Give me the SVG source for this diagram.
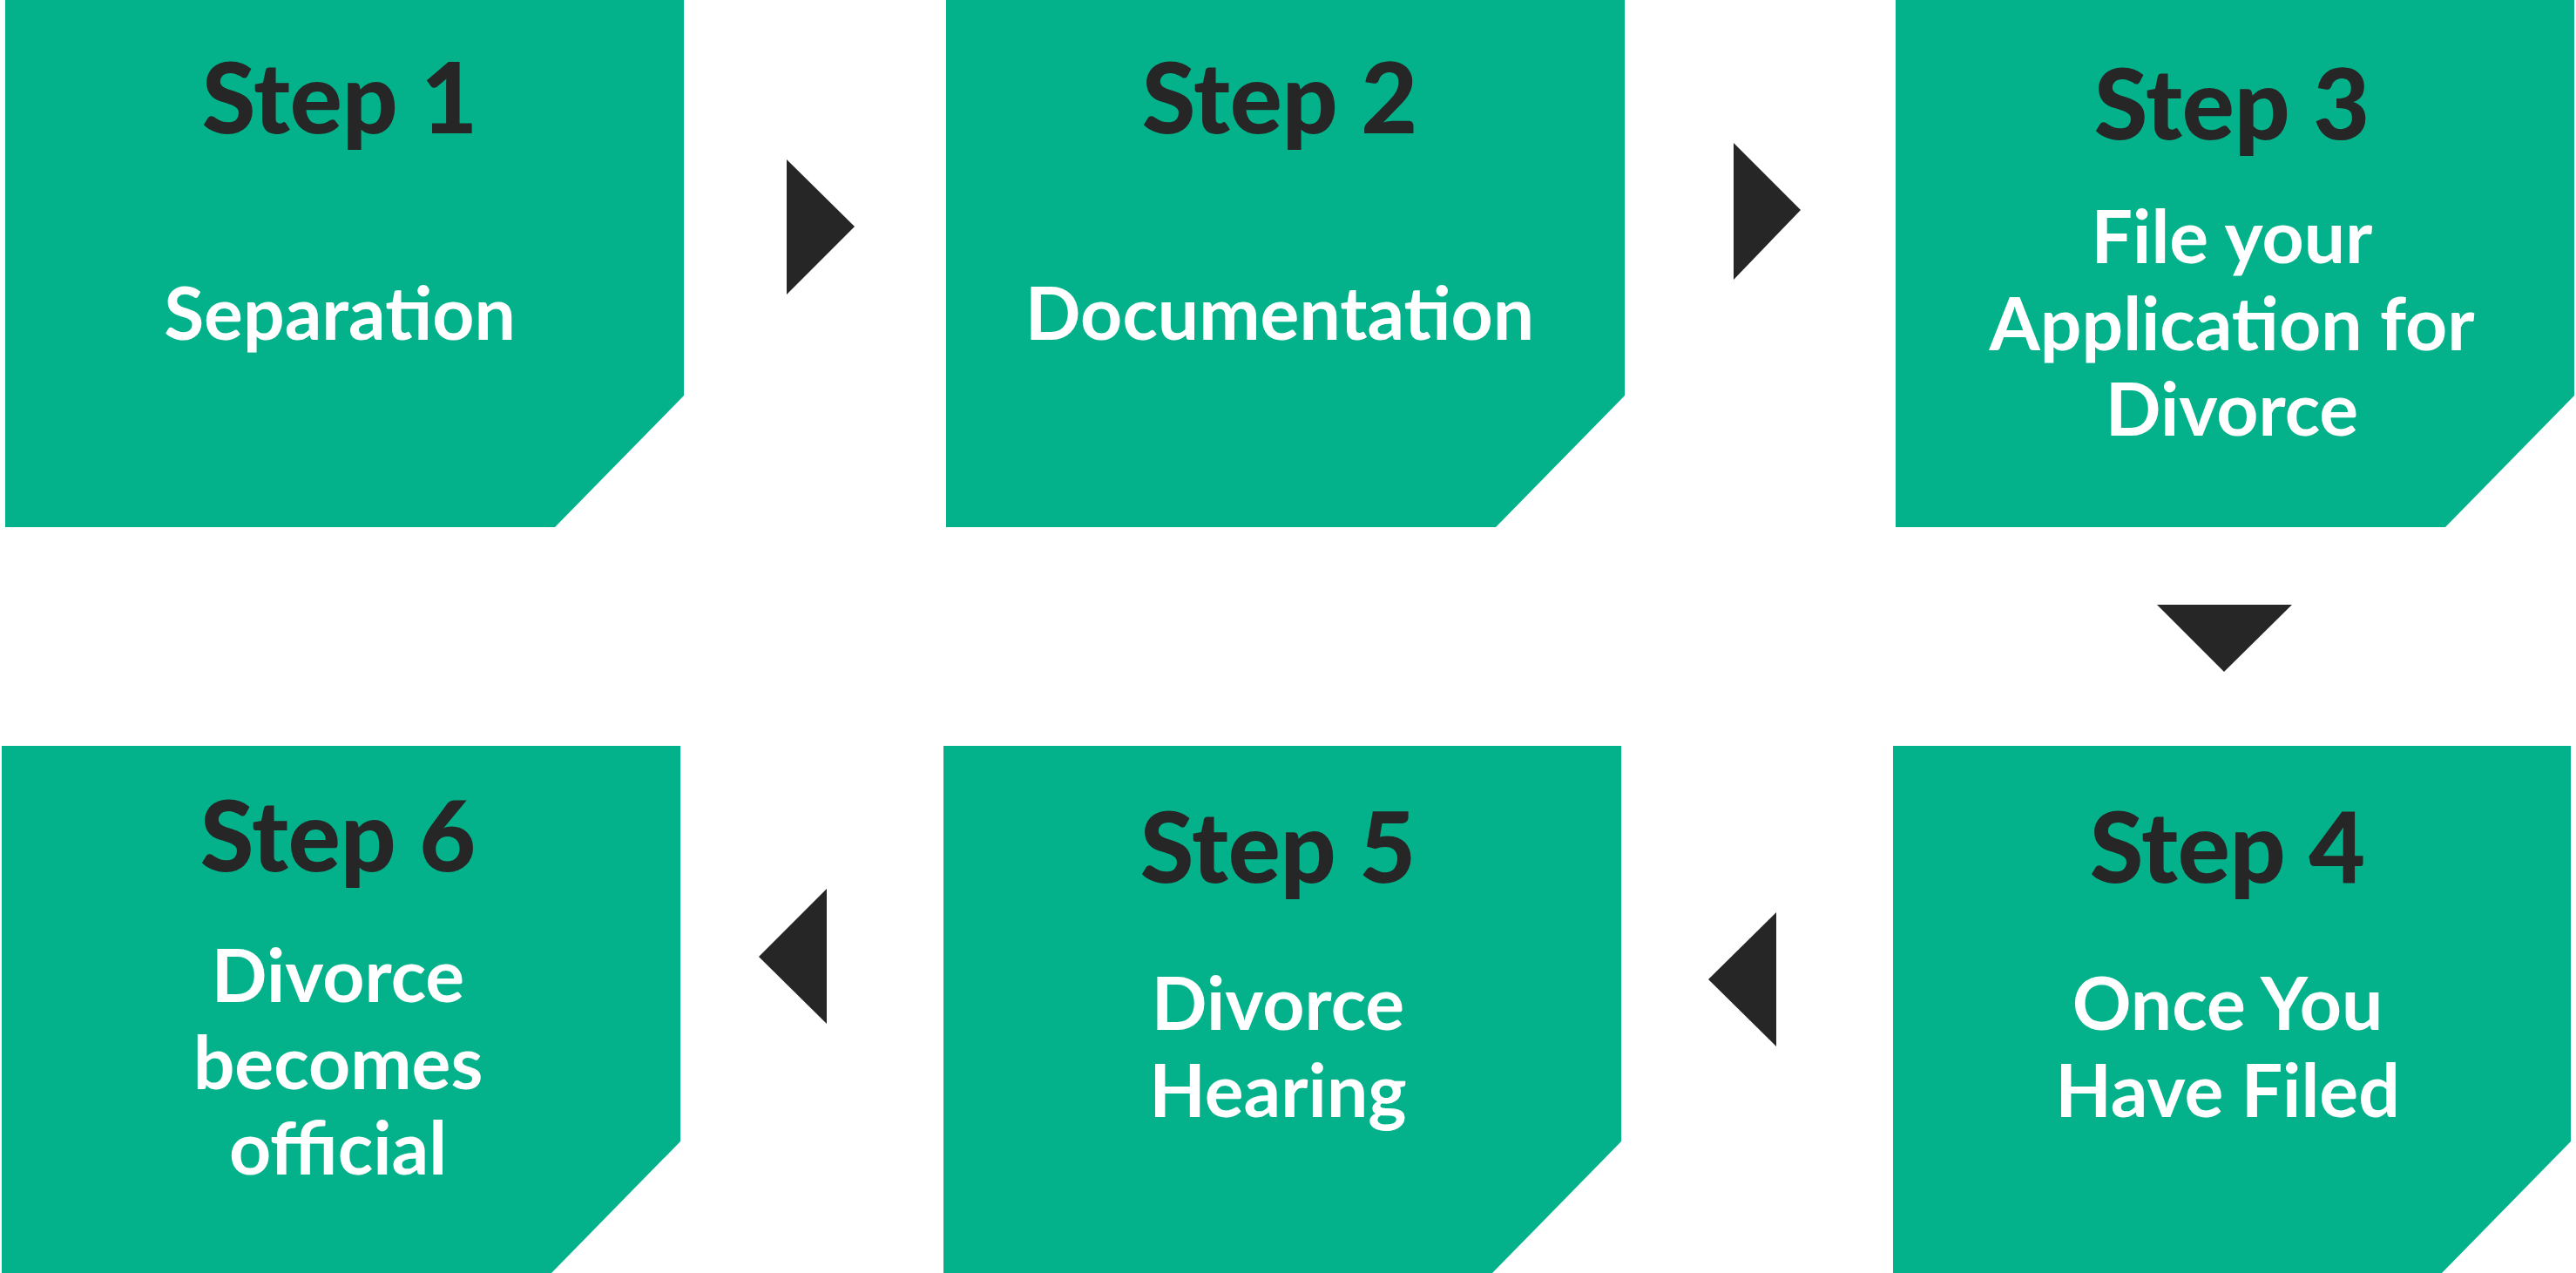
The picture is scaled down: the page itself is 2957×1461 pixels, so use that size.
<svg xmlns="http://www.w3.org/2000/svg" width="2957" height="1461" viewBox="0 0 2957 1461">
<style>
.box{fill:#03B28A}
.arr{fill:#262626}
.step{font-family:Lato,"Liberation Sans",sans-serif;font-weight:900;font-size:112px;fill:#262626;text-anchor:middle}
.lbl{font-family:Lato,"Liberation Sans",sans-serif;font-weight:700;font-size:84px;fill:#ffffff;text-anchor:middle}
</style>
<rect width="2957" height="1461" fill="#ffffff"/>
<g id="step1"><path class="box" d="M6 0H785V454L637 605H6Z"/><text class="step" x="390" y="153">Step 1</text><text class="lbl" x="390" y="390">Separation</text></g>
<g id="step2"><path class="box" d="M1086 0H1865V454L1717 605H1086Z"/><text class="step" x="1469" y="153">Step 2</text><text class="lbl" x="1469" y="390">Documentation</text></g>
<g id="step3"><path class="box" d="M2176 0H2955V454L2807 605H2176Z"/><text class="step" x="2562" y="160">Step 3</text><text class="lbl" x="2562" y="302">File your</text><text class="lbl" x="2562" y="402">Application for</text><text class="lbl" x="2562" y="500">Divorce</text></g>
<g id="step4"><path class="box" d="M2173 856H2951V1310L2803 1461H2173Z"/><text class="step" x="2557" y="1013">Step 4</text><text class="lbl" x="2557" y="1182">Once You</text><text class="lbl" x="2557" y="1282">Have Filed</text></g>
<g id="step5"><path class="box" d="M1083 856H1861V1310L1713 1461H1083Z"/><text class="step" x="1467" y="1013">Step 5</text><text class="lbl" x="1467" y="1182">Divorce</text><text class="lbl" x="1467" y="1282">Hearing</text></g>
<g id="step6"><path class="box" d="M2 856H781V1310L633 1461H2Z"/><text class="step" x="388" y="1000">Step 6</text><text class="lbl" x="388" y="1150">Divorce</text><text class="lbl" x="388" y="1250">becomes</text><text class="lbl" x="388" y="1348">official</text></g>
<g id="connectors">
<path class="arr" d="M903 183L981 260L903 338Z"/>
<path class="arr" d="M1990 164L2067 241L1990 321Z"/>
<path class="arr" d="M2476 694H2631L2553 771Z"/>
<path class="arr" d="M2039 1047L1961 1124L2039 1201Z"/>
<path class="arr" d="M949 1020L871 1098L949 1175Z"/>
</g>
</svg>
